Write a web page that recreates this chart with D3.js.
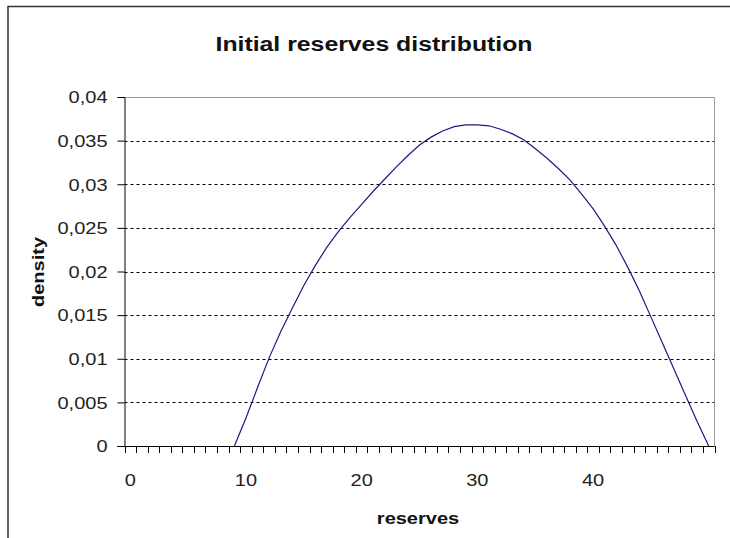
<!DOCTYPE html>
<html lang="en">
<head>
<meta charset="utf-8">
<title>Initial reserves distribution</title>
<script src="https://cdn.jsdelivr.net/npm/d3@7"></script>
<style>
body { margin: 0; background: #fff; }
svg { display: block; font-family: "Liberation Sans", Arial, sans-serif; }
</style>
</head>
<body>
<script>
// categories 0..50 on the x axis (Excel style category axis)
var categories = d3.range(0, 51);
// density; blank before 9
var reserves = [9, 10, 11, 12, 13, 14, 15, 16, 17, 18, 19, 20, 21, 22, 23, 24, 25, 26, 27, 28, 29,
                30, 31, 32, 33, 34, 35, 36, 37, 38, 39, 40, 41, 42, 43, 44, 45, 46, 47, 48, 49, 50];
var density = [0, 0.0032, 0.0067, 0.0101, 0.0131, 0.0158, 0.0184, 0.0207, 0.0228, 0.0246, 0.0262,
               0.0277, 0.0292, 0.0306, 0.0320, 0.0333, 0.0345, 0.0354, 0.0361, 0.0366, 0.0368,
               0.0368, 0.0367, 0.0363, 0.0358, 0.0351, 0.0341, 0.0330, 0.0318, 0.0305, 0.0289,
               0.0272, 0.0252, 0.0230, 0.0205, 0.0178, 0.0148, 0.0118, 0.0088, 0.0058, 0.0028, 0];
var yTicks = [0, 0.005, 0.01, 0.015, 0.02, 0.025, 0.03, 0.035, 0.04];
var xLabels = [0, 10, 20, 30, 40];

var w = 730, h = 538;
var pL = 124.5, pR = 714.5, pT = 97, pB = 446;

var svg = d3.select("body").append("svg").attr("width", w).attr("height", h);

// the old excel text is wide, stretch glyphs a bit
function widen(sel, k) {
    sel.each(function() {
        var n = this.getComputedTextLength();
        d3.select(this).attr("textLength", n * k).attr("lengthAdjust", "spacingAndGlyphs");
    });
}

// chart frame (runs off the right and bottom of the picture)
svg.append("rect").attr("x", 8).attr("y", 6.5).attr("width", 740).attr("height", 560)
   .attr("fill", "none").attr("stroke", "#333").attr("stroke-width", 1.5);

var x = d3.scaleBand().domain(categories).range([pL, pR]).padding(0);
var y = d3.scaleLinear().domain([0, 0.04]).range([pB, pT]);

var fmt = function(d) { return String(+d.toFixed(3)).replace(".", ","); };

// gridlines
svg.append("g").selectAll("line").data(yTicks.slice(1, -1)).enter().append("line")
   .attr("x1", pL).attr("x2", pR)
   .attr("y1", function(d) { return Math.round(y(d)) + 0.5; })
   .attr("y2", function(d) { return Math.round(y(d)) + 0.5; })
   .attr("stroke", "#000").attr("stroke-dasharray", "3,3");

// plot area top/right border
svg.append("path")
   .attr("d", "M" + pL + "," + (pT + 0.5) + "H" + pR + "V" + pB)
   .attr("fill", "none").attr("stroke", "#999");

// y axis
var yAxis = d3.axisLeft(y).tickValues(yTicks).tickFormat(fmt).tickSize(7).tickPadding(10);
var gy = svg.append("g").attr("transform", "translate(" + pL + ",0)").call(yAxis);
gy.attr("font-size", 16).attr("font-family", null);
gy.selectAll("text").attr("fill", "#222").attr("dy", "0.36em");
gy.selectAll("line,path").attr("stroke", "#000");
widen(gy.selectAll("text"), 1.25);

// x axis: tick at every category boundary, labels every 10
var bounds = categories.map(function(c) { return x(c); }).concat([pR]);
var gx = svg.append("g");
gx.append("line").attr("x1", pL - 7).attr("x2", pR).attr("y1", pB + 0.5).attr("y2", pB + 0.5)
  .attr("stroke", "#000");
gx.selectAll("line.tk").data(bounds).enter().append("line").attr("class", "tk")
  .attr("x1", function(d) { return Math.round(d) + 0.5; })
  .attr("x2", function(d) { return Math.round(d) + 0.5; })
  .attr("y1", pB).attr("y2", pB + 7).attr("stroke", "#000");
gx.selectAll("text").data(xLabels).enter().append("text")
  .attr("x", function(d) { return x(d) + x.bandwidth() / 2; })
  .attr("y", pB + 40)
  .attr("text-anchor", "middle").attr("font-size", 16).attr("fill", "#222")
  .text(function(d) { return d; });
widen(gx.selectAll("text"), 1.25);

// the curve
var pts = reserves.map(function(r, i) { return [r, density[i]]; });
svg.append("path").datum(pts)
   .attr("d", d3.line()
       .x(function(d) { return x(d[0]) + x.bandwidth() / 2; })
       .y(function(d) { return y(d[1]); }))
   .attr("fill", "none").attr("stroke", "#1a1a80").attr("stroke-width", 1.2);

// titles
var title = svg.append("text").attr("x", 374).attr("y", 51).attr("text-anchor", "middle")
   .attr("font-size", 20).attr("font-weight", "bold").attr("fill", "#111")
   .text("Initial reserves distribution");
widen(title, 1.24);
var xt = svg.append("text").attr("x", 418).attr("y", 524).attr("text-anchor", "middle")
   .attr("font-size", 16).attr("font-weight", "bold").attr("fill", "#111")
   .text("reserves");
widen(xt, 1.25);
var yt = svg.append("text").attr("transform", "translate(44,272) rotate(-90)").attr("text-anchor", "middle")
   .attr("font-size", 16).attr("font-weight", "bold").attr("fill", "#111")
   .text("density");
widen(yt, 1.25);
</script>
</body>
</html>
